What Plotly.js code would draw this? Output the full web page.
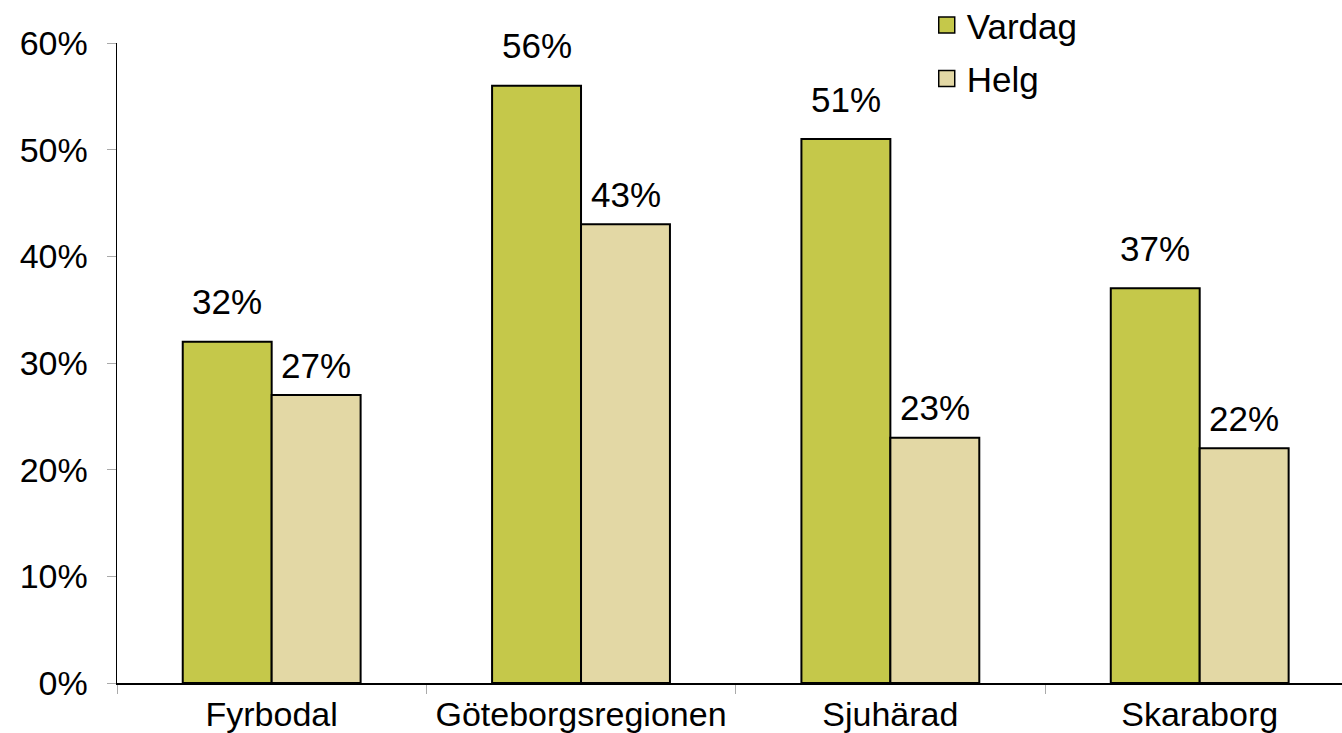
<!DOCTYPE html>
<html>
<head>
<meta charset="utf-8">
<script src="https://cdn.plot.ly/plotly-3.0.1.min.js"></script>
<style>
  html, body { margin: 0; padding: 0; background: #fff; }
  #chart { width: 1342px; height: 733px; }
</style>
</head>
<body>
<div id="chart"></div>
<script>
'use strict';

const regions = ['Fyrbodal', 'Göteborgsregionen', 'Sjuhärad', 'Skaraborg'];
const vardag = [0.32, 0.56, 0.51, 0.37];
const helg = [0.27, 0.43, 0.23, 0.22];

const font = 'Liberation Sans, Arial, sans-serif';
const barPx = 89;
const green = '#C5C84A';
const beige = '#E3D8A5';

function barTrace(name, values, color) {
  return {
    type: 'bar',
    name: name,
    x: regions,
    y: values,
    showlegend: false,
    marker: {color: color, line: {color: '#000', width: 2}},
    hoverinfo: 'skip'
  };
}

// bar legend swatches are tiny, so use empty square-marker traces for the key
function keyTrace(name, color, group) {
  return {
    type: 'scatter',
    mode: 'markers',
    name: name,
    x: [null],
    y: [null],
    legendgroup: group,
    marker: {symbol: 'square', size: 16, color: color, line: {color: '#000', width: 1.5}},
    hoverinfo: 'skip'
  };
}

// value labels sit above each bar, Excel-style
function labels(values, side, lift) {
  return values.map((v, i) => ({
    x: regions[i],
    y: v,
    xref: 'x',
    yref: 'y',
    text: Math.round(v * 100) + '%',
    showarrow: false,
    xshift: side * barPx / 2,
    yshift: lift,
    font: {family: font, size: 35, color: '#000'}
  }));
}

const data = [
  barTrace('Vardag', vardag, green),
  barTrace('Helg', helg, beige),
  keyTrace('Vardag', green, 'a'),
  keyTrace('Helg', beige, 'b')
];

const layout = {
  width: 1342,
  height: 733,
  margin: {l: 117, r: 0, t: 43, b: 50, autoexpand: false},
  paper_bgcolor: '#fff',
  plot_bgcolor: '#fff',
  barmode: 'group',
  bargap: 0.425,
  bargroupgap: 0,
  font: {family: font, size: 34, color: '#000'},
  xaxis: {
    type: 'category',
    range: [-0.5, 3.46],
    showline: true,
    linecolor: '#000',
    linewidth: 1.5,
    ticks: 'outside',
    tickson: 'boundaries',
    ticklen: 9,
    tickcolor: '#aaa',
    ticklabelstandoff: 1,
    tickfont: {family: font, size: 34, color: '#000'},
    showgrid: false,
    zeroline: false
  },
  yaxis: {
    range: [0, 0.6],
    dtick: 0.1,
    tickformat: '.0%',
    showline: true,
    linecolor: '#000',
    linewidth: 1.5,
    ticks: 'outside',
    ticklen: 9,
    tickcolor: '#aaa',
    ticklabelstandoff: 12,
    tickfont: {family: font, size: 34, color: '#000'},
    showgrid: false,
    zeroline: false
  },
  showlegend: true,
  legend: {
    x: 0.661,
    xanchor: 'left',
    y: 1.074,
    yanchor: 'top',
    traceorder: 'grouped',
    tracegroupgap: 5,
    font: {family: font, size: 35, color: '#000'},
    bgcolor: 'rgba(0,0,0,0)'
  },
  annotations: labels(vardag, -1, 40).concat(labels(helg, 1, 30))
};

Plotly.newPlot('chart', data, layout, {staticPlot: true});
</script>
</body>
</html>
